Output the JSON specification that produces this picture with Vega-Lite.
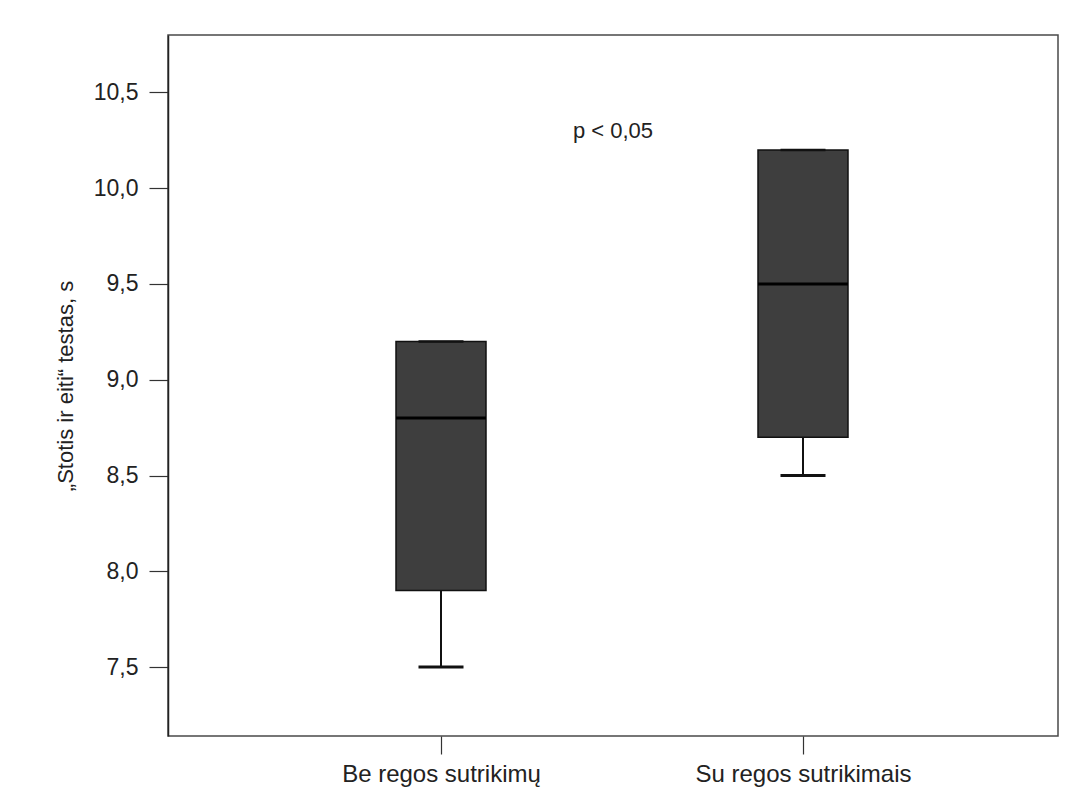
{
  "$schema": "https://vega.github.io/schema/vega-lite/v6.json",
  "width": 890,
  "height": 701,
  "autosize": {"type": "none"},
  "padding": {"left": 168, "top": 35, "right": 25, "bottom": 76},
  "background": "white",
  "config": {
    "font": "Liberation Sans",
    "view": {"stroke": "#4a4a4a", "strokeWidth": 1.5},
    "axis": {"grid": false}
  },
  "layer": [
    {
      "data": {
        "values": [
          {"group": "Be regos sutrikimų", "min": 7.5, "q1": 7.9, "median": 8.8, "q3": 9.2, "max": 9.2},
          {"group": "Su regos sutrikimais", "min": 8.5, "q1": 8.7, "median": 9.5, "q3": 10.2, "max": 10.2}
        ]
      },
      "encoding": {
        "x": {
          "field": "group", "type": "nominal", "sort": null,
          "scale": {"type": "point", "range": [273, 635], "padding": 0},
          "axis": {
            "title": null, "labelAngle": 0, "labelFontSize": 24, "labelColor": "#222222", "labelLimit": 0,
            "labelPadding": 8, "tickSize": 18, "tickColor": "#333333", "tickWidth": 1.2,
            "domain": false
          }
        }
      },
      "layer": [
        {
          "mark": {"type": "rule", "color": "#111111", "strokeWidth": 2},
          "encoding": {
            "y": {
              "field": "min", "type": "quantitative",
              "scale": {"domain": [7.14, 10.8], "nice": false, "zero": false},
              "axis": {
                "title": "„Stotis ir eiti“ testas, s",
                "titleFontSize": 22, "titleFontWeight": "normal", "titleColor": "#222222", "titlePadding": 16,
                "values": [7.5, 8, 8.5, 9, 9.5, 10, 10.5],
                "labelExpr": "replace(format(datum.value, '.1f'), '.', ',')",
                "labelFontSize": 23, "labelColor": "#222222", "labelPadding": 11,
                "tickSize": 19, "tickColor": "#333333", "tickWidth": 1.2,
                "domainColor": "#222222", "domainWidth": 1.5
              }
            },
            "y2": {"field": "q1"}
          }
        },
        {
          "mark": {"type": "rule", "color": "#111111", "strokeWidth": 2},
          "encoding": {
            "y": {"field": "q3", "type": "quantitative"},
            "y2": {"field": "max"}
          }
        },
        {
          "mark": {"type": "bar", "size": 90, "fill": "#3e3e3e", "stroke": "#111111", "strokeWidth": 1.5},
          "encoding": {
            "y": {"field": "q1", "type": "quantitative"},
            "y2": {"field": "q3"}
          }
        },
        {
          "mark": {"type": "tick", "size": 90, "thickness": 3, "color": "#000000", "opacity": 1},
          "encoding": {
            "y": {"field": "median", "type": "quantitative"}
          }
        },
        {
          "mark": {"type": "tick", "size": 45, "thickness": 3, "color": "#111111", "opacity": 1},
          "encoding": {
            "y": {"field": "min", "type": "quantitative"}
          }
        },
        {
          "mark": {"type": "tick", "size": 45, "thickness": 2.5, "color": "#111111", "opacity": 1},
          "encoding": {
            "y": {"field": "max", "type": "quantitative"}
          }
        }
      ]
    },
    {
      "data": {"values": [{"label": "p < 0,05", "value": 10.3}]},
      "mark": {"type": "text", "fontSize": 22, "color": "#222222", "baseline": "middle", "align": "center"},
      "encoding": {
        "x": {"field": "label", "type": "nominal", "scale": {"type": "point"}, "axis": null},
        "y": {"field": "value", "type": "quantitative"},
        "text": {"field": "label"}
      }
    }
  ],
  "resolve": {"scale": {"x": "independent"}}
}
